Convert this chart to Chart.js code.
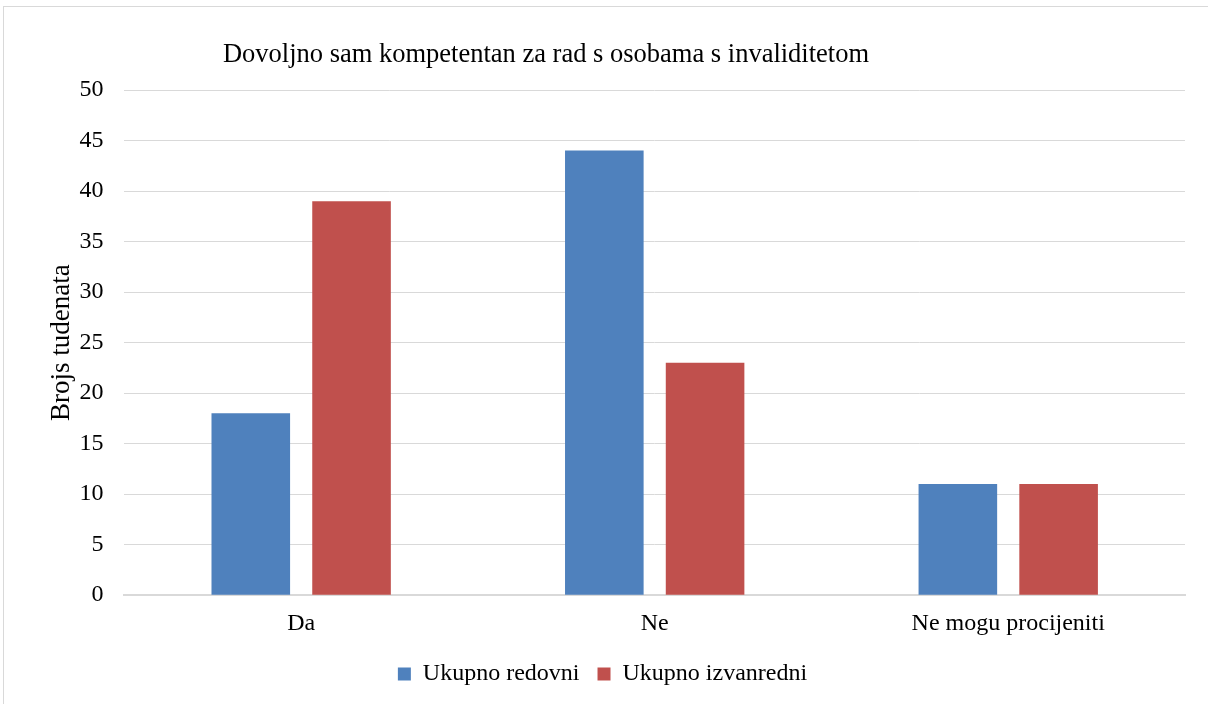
<!DOCTYPE html>
<html>
<head>
<meta charset="utf-8">
<script src="https://cdn.jsdelivr.net/npm/chart.js@4/dist/chart.umd.min.js"></script>
<style>
  html, body { margin: 0; padding: 0; background: #fff; overflow: hidden; }
  #wrap { position: relative; width: 1208px; height: 704px; }
  #frame { position: absolute; left: 3px; top: 6px; width: 1300px; height: 800px; border: 1px solid #d9d9d9; pointer-events: none; }
</style>
</head>
<body>
<div id="wrap">
  <canvas id="myChart" width="1208" height="704"></canvas>
  <div id="frame"></div>
</div>
<script>
// podaci sa grafikona
const categories = ["Da", "Ne", "Ne mogu procijeniti"];
const redovni = [18, 44, 11];
const izvanredni = [39, 23, 11];
const yTicks = [0, 5, 10, 15, 20, 25, 30, 35, 40, 45, 50];

const chartTitle = "Dovoljno sam kompetentan za rad s osobama s invaliditetom";
const FONT = "'Liberation Serif', 'Times New Roman', serif";

// naslov je pomaknut ulijevo kao u originalu
const titlePlugin = {
    id: "leftTitle",
    afterDraw(chart) {
        const c = chart.ctx;
        c.save();
        c.font = "26.5px " + FONT;
        c.fillStyle = "#000";
        c.textAlign = "center";
        c.textBaseline = "middle";
        c.fillText(chartTitle, 546, 55);
        c.restore();
    }
};

window.onload = function() {
    const ctx = document.getElementById("myChart").getContext("2d");
    const myChart = new Chart(ctx, {
        type: "bar",
        data: {
            labels: categories,
            datasets: [
                {
                    label: "Ukupno redovni",
                    data: redovni,
                    backgroundColor: "#4F81BD",
                },
                {
                    label: "Ukupno izvanredni",
                    data: izvanredni,
                    backgroundColor: "#C0504D",
                },
            ],
        },
        options: {
            responsive: false,
            animation: false,
            categoryPercentage: 0.57,
            barPercentage: 0.78,
            layout: { padding: { top: 90, right: 23, left: 20, bottom: 8 } },
            plugins: {
                legend: {
                    position: "bottom",
                    labels: {
                        font: { family: FONT, size: 24 },
                        color: "#000",
                        boxWidth: 13,
                        boxHeight: 13,
                        padding: 18,
                    },
                },
                tooltip: { enabled: false },
            },
            scales: {
                x: {
                    grid: { display: false },
                    border: { color: "#d9d9d9", width: 2 },
                    ticks: { font: { family: FONT, size: 24 }, color: "#000", padding: 6 },
                },
                y: {
                    min: 0,
                    max: 50,
                    afterBuildTicks: (axis) => { axis.ticks = yTicks.map(v => ({ value: v })); },
                    grid: { color: "#d9d9d9", drawTicks: false },
                    border: { display: false },
                    ticks: { font: { family: FONT, size: 24 }, color: "#000", padding: 21 },
                    title: {
                        display: true,
                        text: "Brojs tudenata",
                        font: { family: FONT, size: 27 },
                        color: "#000",
                        padding: { top: 26, bottom: -20 },
                    },
                },
            },
        },
        plugins: [titlePlugin],
    });
}
</script>
</body>
</html>
